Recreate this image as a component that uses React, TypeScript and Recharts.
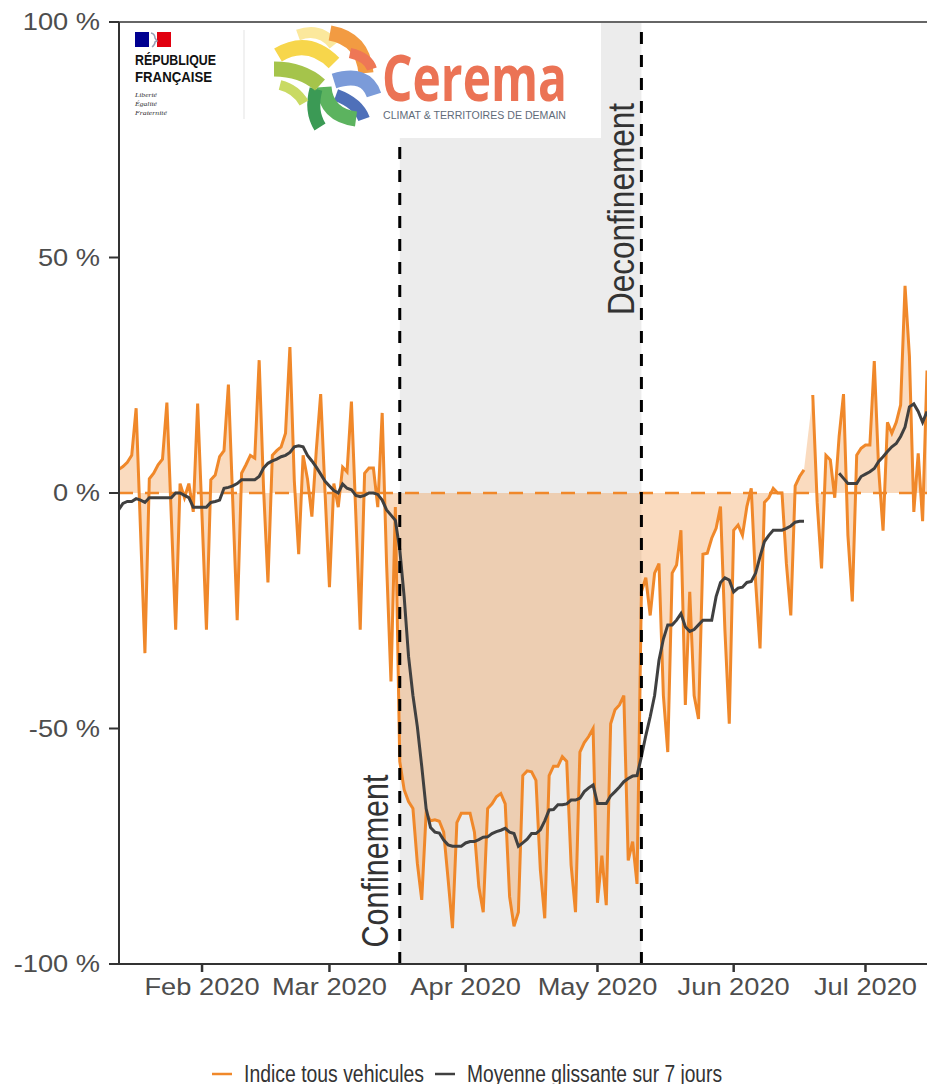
import React from 'react';
import {
  ComposedChart,
  Line,
  Area,
  XAxis,
  YAxis,
  ReferenceArea,
  ReferenceLine,
  Legend,
} from 'recharts';

const FONT = '"Liberation Sans", Arial, Helvetica, sans-serif';
const ORANGE = '#f0882a';
const DARK = '#404040';

// day-of-year (0 = 1 Jan 2020) of the first daily value (Mon 13 Jan 2020)
const START_DAY = 12;
const MONTH_TICKS = [31, 60, 91, 121, 152, 182];
const MONTH_LABELS = ['Feb 2020', 'Mar 2020', 'Apr 2020', 'May 2020', 'Jun 2020', 'Jul 2020'];
const Y_TICKS = [-100, -50, 0, 50, 100];
const Y_LABELS = ['-100 %', '-50 %', '0 %', '50 %', '100 %'];
const CONFINEMENT_DAY = 76; // 17 Mar
const DECONFINEMENT_DAY = 131; // 11 May

// Indice tous vehicules (daily, % vs reference)
const INDICE: (number | null)[] = [
  5, 5.6, 6.5, 8, 18, -8, -34,
  3, 4.2, 6, 7.2, 19.2, -5, -29,
  2, -1, 2, -4, 19, -5, -29,
  2.8, 3.8, 7.7, 9, 23, -2, -27,
  4.2, 6, 8, 7.4, 28.2, 1, -19,
  8, 9, 9.8, 12.7, 31, 2.6, -13,
  8, 3, -5, 9, 21, 0, -20,
  2, -3, 5.5, 4.5, 19.4, -4.6, -29,
  4.2, 5.3, 5.3, -3, 17, -15, -40,
  -3, -57, -63, -65.5, -67, -78.6, -86.4,
  -68, -69.6, -69.4, -69.7, -72, -82, -92.4,
  -70, -68, -68, -68, -72, -83.6, -89,
  -67, -66, -64.5, -63.8, -66, -85.7, -92,
  -89, -60, -59, -59.2, -61, -80, -90.3,
  -60, -58, -58, -56, -57, -79, -89,
  -55, -53, -51.7, -50, -87, -77, -87.5,
  -49, -46, -45, -43, -78, -74, -83,
  -21, -18, -26, -17, -15, -43, -55,
  -17, -15.3, -7.9, -45, -21, -43, -48,
  -13, -12.8, -9.6, -7.5, -2.9, -29, -49,
  -7.9, -6.8, -9, -2.9, 1, -19, -33,
  -2, -1, 1, 0, 0, -15, -26,
  1.5, 3.5, 4.9, null, 20.8, -2, -16,
  8, 7, -1, 12, 21, -9, -23,
  8, 9.5, 10.2, 10.2, 28, 5, -8,
  15, 12.7, 15, 18.7, 44, 29, -4,
  8.4, -6, 26,
];

// Moyenne glissante sur 7 jours
const MOYENNE: (number | null)[] = [
  -3.6, -2.2, -1.8, -1.8, -1.2, -1.5, -2,
  -1, -1, -1, -1, -1, -1, 0,
  0, -0.5, -1, -3, -3, -3, -3,
  -2, -1.8, -1.5, 1, 1.2, 1.5, 2,
  2.8, 2.8, 2.8, 2.8, 3.5, 5.3, 6.3,
  6.8, 7.2, 7.7, 8, 8.6, 9.8, 10,
  9.8, 8, 6.8, 5.5, 4, 2.5, 1.5,
  0.5, 0, 1.9, 1, 0.7, -0.5, -0.8,
  -0.5, 0, 0, -0.3, -1.5, -3.6, -4.7,
  -5.8, -12, -22, -34.7, -43, -49.6, -58,
  -67, -71, -72, -72.2, -73.7, -74.7, -75,
  -75, -75, -74.3, -74, -74, -73.6, -73.1,
  -73, -72.3, -71.9, -71.6, -71.2, -72, -72.3,
  -75, -74.3, -73.5, -72.3, -72.3, -71.5, -69.6,
  -67.3, -67.2, -66.2, -66.2, -66, -65.2, -65.2,
  -64.8, -63.4, -62.6, -62, -65.9, -65.9, -65.9,
  -64.3, -63.4, -62.4, -61.3, -60.6, -60.1, -60,
  -56, -51.5, -47.5, -43, -35.5, -31, -28,
  -28, -27, -25.6, -28.4, -29.4, -29, -28,
  -27, -27, -27, -22, -19, -18, -18.5,
  -21, -20.2, -20, -19, -18.8, -17, -13.5,
  -10.3, -9, -7.9, -7.9, -7.9, -7.5, -7,
  -6.2, -6, -6, null, null, null, null,
  null, null, null, 4.2, 3.1, 2, 2,
  2, 3.5, 4, 4.5, 5.2, 6.7, 7.7,
  8.8, 9.8, 10.5, 12, 14, 18.3, 18.9,
  17.3, 15, 17.3,
];

const data = INDICE.map((v, i) => ({
  day: START_DAY + i,
  indice: v,
  moyenne: MOYENNE[i],
}));

const XTick = (props: any) => {
  const { x, payload } = props;
  const idx = MONTH_TICKS.indexOf(payload.value);
  return (
    <g transform={`translate(${x},995)`}>
      <text
        textAnchor="middle"
        fontSize={23.3}
        fill="#4d4d4d"
        fontFamily={FONT}
        transform="scale(1.17,1)"
      >
        {MONTH_LABELS[idx]}
      </text>
    </g>
  );
};

const YTick = (props: any) => {
  const { y, payload } = props;
  const idx = Y_TICKS.indexOf(payload.value);
  return (
    <g transform={`translate(100,${y + 8.3})`}>
      <text
        textAnchor="end"
        fontSize={23.3}
        fill="#4d4d4d"
        fontFamily={FONT}
        transform="scale(1.17,1)"
      >
        {Y_LABELS[idx]}
      </text>
    </g>
  );
};

const VLabel = (props: any) => {
  const { viewBox, text, dx, cy, len } = props;
  const x = (viewBox ? viewBox.x : 0) + dx;
  return (
    <text
      transform={`translate(${x},${cy}) rotate(-90)`}
      textAnchor="middle"
      fontSize={37}
      textLength={len}
      lengthAdjust="spacingAndGlyphs"
      fill="#333333"
      fontFamily={FONT}
    >
      {text}
    </text>
  );
};

const LegendContent = () => (
  <svg width={927} height={28} style={{ display: 'block' }}>
    <line x1={212} x2={232} y1={12} y2={12} stroke={ORANGE} strokeWidth={2.5} />
    <text
      x={244}
      y={20}
      fontSize={23}
      fill="#333333"
      fontFamily={FONT}
      textLength={180}
      lengthAdjust="spacingAndGlyphs"
    >
      Indice tous vehicules
    </text>
    <line x1={435} x2={455} y1={12} y2={12} stroke={DARK} strokeWidth={2.5} />
    <text
      x={467}
      y={20}
      fontSize={23}
      fill="#333333"
      fontFamily={FONT}
      textLength={255}
      lengthAdjust="spacingAndGlyphs"
    >
      Moyenne glissante sur 7 jours
    </text>
  </svg>
);

const Logo = () => (
  <svg
    width={481}
    height={115}
    style={{ position: 'absolute', left: 120, top: 23 }}
  >
    <rect x={0} y={0} width={481} height={115} fill="#ffffff" />
    {/* République française block */}
    <rect x={15} y={9} width={14} height={15} fill="#000091" />
    <rect x={37} y={9} width={14} height={15} fill="#e1000f" />
    <path d="M31 10 q4 1 4 5 l2 3 l-2 1 q0 3 -3 5" stroke="#9aa0b5" strokeWidth={1.5} fill="none" />
    <text x={15} y={42} fontSize={14} fontWeight="bold" fontFamily={FONT} fill="#111"
      textLength={81} lengthAdjust="spacingAndGlyphs">RÉPUBLIQUE</text>
    <text x={15} y={59} fontSize={14} fontWeight="bold" fontFamily={FONT} fill="#111"
      textLength={77} lengthAdjust="spacingAndGlyphs">FRANÇAISE</text>
    <text x={15} y={74} fontSize={7} fontStyle="italic" fontFamily="serif" fill="#333"
      textLength={22} lengthAdjust="spacingAndGlyphs">Liberté</text>
    <text x={15} y={83} fontSize={7} fontStyle="italic" fontFamily="serif" fill="#333"
      textLength={22} lengthAdjust="spacingAndGlyphs">Égalité</text>
    <text x={15} y={92} fontSize={7} fontStyle="italic" fontFamily="serif" fill="#333"
      textLength={32} lengthAdjust="spacingAndGlyphs">Fraternité</text>
    <line x1={124} x2={124} y1={7} y2={96} stroke="#e3e3e3" strokeWidth={1} />
    {/* Cerema star */}
    <g fill="none" strokeLinecap="butt">
      <path d="M158 32 Q188 14 214 40" stroke="#f7d64b" strokeWidth={15} />
      <path d="M178 12 Q200 4 214 22" stroke="#fbe89c" strokeWidth={11} />
      <path d="M210 10 Q243 16 246 50" stroke="#f29b42" strokeWidth={15} />
      <path d="M230 30 Q248 34 252 46" stroke="#ee7756" strokeWidth={10} />
      <path d="M214 58 Q246 48 254 72" stroke="#7b9bd9" strokeWidth={15} />
      <path d="M216 72 Q238 80 244 96" stroke="#4f70b9" strokeWidth={12} />
      <path d="M204 64 Q206 92 236 96" stroke="#5cb35f" strokeWidth={15} />
      <path d="M196 66 Q190 88 200 104" stroke="#3b9a55" strokeWidth={13} />
      <path d="M154 46 Q182 46 200 62" stroke="#a5c44b" strokeWidth={15} />
      <path d="M160 62 Q176 66 184 80" stroke="#c9da63" strokeWidth={10} />
    </g>
    <text x={262} y={78} fontSize={64} fontFamily='"Open Sans", "Liberation Sans", sans-serif'
      fontWeight={700} fill="#eb7355" textLength={185} lengthAdjust="spacingAndGlyphs">Cerema</text>
    <text x={263} y={96} fontSize={10} fontFamily={FONT} fill="#5f6b79"
      textLength={183} lengthAdjust="spacingAndGlyphs">CLIMAT &amp; TERRITOIRES DE DEMAIN</text>
  </svg>
);

export default function App() {
  return (
    <div style={{ position: 'absolute', left: 0, top: 0, width: 927, height: 1084, background: '#fff' }}>
      <ComposedChart
        width={927}
        height={1084}
        data={data}
        margin={{ top: 22, right: 0, bottom: 0, left: 0 }}
      >
        <ReferenceArea
          x1={CONFINEMENT_DAY}
          x2={DECONFINEMENT_DAY}
          y1={-100}
          y2={100}
          fill="#ececec"
          fillOpacity={1}
          stroke="none"
          zIndex={-10}
          ifOverflow="hidden"
        />
        <XAxis
          type="number"
          dataKey="day"
          domain={[12.1, 196]}
          allowDataOverflow
          ticks={MONTH_TICKS}
          interval={0}
          tick={<XTick />}
          tickSize={8}
          height={120}
          axisLine={{ stroke: '#333333', strokeWidth: 2 }}
          tickLine={{ stroke: '#333333', strokeWidth: 2.5 }}
        />
        <YAxis
          type="number"
          domain={[-100, 100]}
          allowDataOverflow
          ticks={Y_TICKS}
          interval={0}
          tick={<YTick />}
          tickSize={10}
          width={119}
          axisLine={{ stroke: '#333333', strokeWidth: 2 }}
          tickLine={{ stroke: '#333333', strokeWidth: 2 }}
        />
        <Area
          dataKey="indice"
          type="linear"
          baseValue={0}
          connectNulls
          stroke="none"
          fill={ORANGE}
          fillOpacity={0.3}
          isAnimationActive={false}
          activeDot={false}
          zIndex={100}
        />
        <ReferenceLine
          y={0}
          stroke={ORANGE}
          strokeWidth={2.5}
          strokeDasharray="14 12"
          zIndex={150}
        />
        <ReferenceLine y={100} stroke="#666666" strokeWidth={2} zIndex={150} />
        <Line
          dataKey="indice"
          type="linear"
          stroke={ORANGE}
          strokeWidth={3}
          dot={false}
          activeDot={false}
          connectNulls={false}
          isAnimationActive={false}
          zIndex={400}
        />
        <Line
          dataKey="moyenne"
          type="linear"
          stroke={DARK}
          strokeWidth={3}
          dot={false}
          activeDot={false}
          connectNulls={false}
          isAnimationActive={false}
          zIndex={410}
        />
        <ReferenceLine
          x={CONFINEMENT_DAY}
          stroke="#000000"
          strokeWidth={3}
          strokeDasharray="12 11"
          zIndex={450}
          label={<VLabel text="Confinement" dx={-12} cy={861} len={173} />}
        />
        <ReferenceLine
          x={DECONFINEMENT_DAY}
          stroke="#000000"
          strokeWidth={3}
          strokeDasharray="12 11"
          zIndex={450}
          label={<VLabel text="Deconfinement" dx={-7.4} cy={209} len={212} />}
        />
        <Legend
          layout="horizontal"
          verticalAlign="middle"
          align="center"
          content={<LegendContent />}
          wrapperStyle={{ position: 'absolute', left: 0, top: 1062, width: 927, height: 28 }}
        />
      </ComposedChart>
      <Logo />
    </div>
  );
}
